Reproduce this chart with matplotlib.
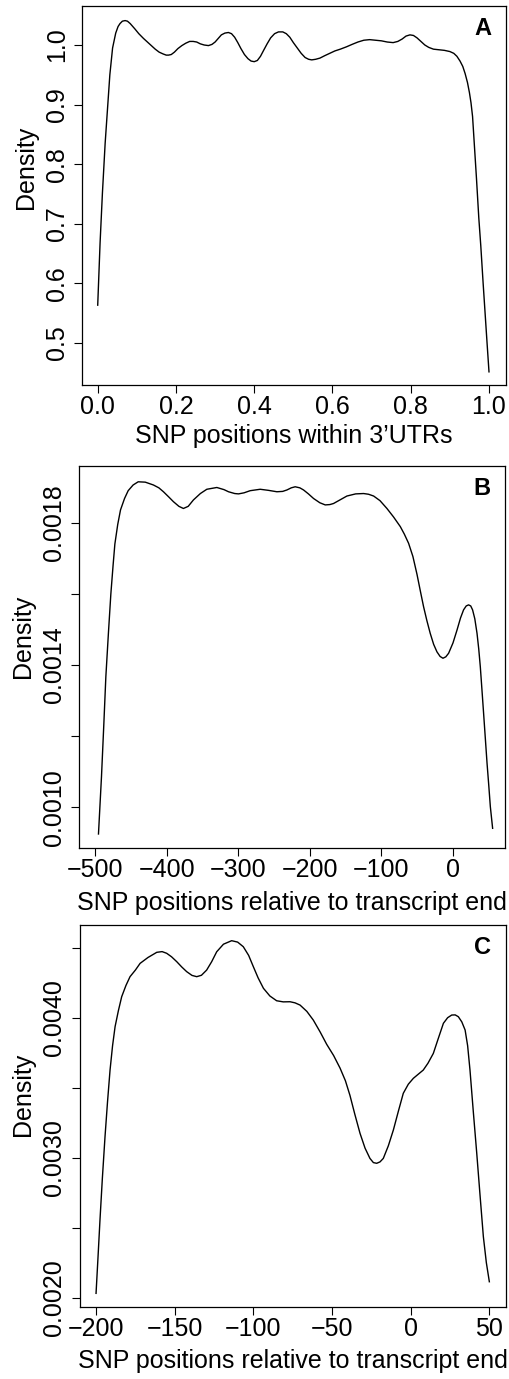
import matplotlib
matplotlib.use("Agg")
import matplotlib.pyplot as plt
from matplotlib.ticker import FixedLocator, FixedFormatter

plt.rcParams['font.family'] = ['Liberation Sans', 'DejaVu Sans']

# Panel A: relative position within the 3'UTR
a_pos = [0.000, 0.006, 0.012, 0.019, 0.026, 0.031, 0.038, 0.046, 0.052, 0.057,
         0.063, 0.070, 0.076, 0.083, 0.095, 0.105, 0.117, 0.127, 0.137, 0.147,
         0.157, 0.167, 0.175, 0.181, 0.188, 0.196, 0.205, 0.215, 0.225, 0.235,
         0.244, 0.253, 0.262, 0.272, 0.283, 0.292, 0.300, 0.308, 0.316, 0.325,
         0.334, 0.342, 0.350, 0.358, 0.366, 0.375, 0.384, 0.392, 0.400, 0.408,
         0.416, 0.424, 0.433, 0.442, 0.452, 0.462, 0.473, 0.482, 0.491, 0.500,
         0.510, 0.520, 0.530, 0.539, 0.547, 0.557, 0.568, 0.580, 0.593, 0.606,
         0.620, 0.636, 0.650, 0.665, 0.680, 0.695, 0.710, 0.725, 0.740, 0.755,
         0.767, 0.778, 0.788, 0.798, 0.807, 0.816, 0.826, 0.836, 0.846, 0.858,
         0.872, 0.886, 0.900, 0.910, 0.918, 0.926, 0.933, 0.939, 0.945, 0.950,
         0.954, 0.958, 0.963, 0.968, 0.974, 0.979, 0.985, 0.990, 0.995, 1.000]
a_dens = [0.563, 0.667, 0.751, 0.835, 0.902, 0.950, 0.995, 1.020, 1.031, 1.036,
          1.040, 1.041, 1.040, 1.036, 1.027, 1.019, 1.011, 1.005, 0.999, 0.993,
          0.988, 0.985, 0.983, 0.983, 0.984, 0.988, 0.994, 0.999, 1.003, 1.006,
          1.006, 1.005, 1.002, 1.000, 0.999, 1.001, 1.005, 1.011, 1.017, 1.020,
          1.021, 1.019, 1.013, 1.004, 0.994, 0.984, 0.977, 0.973, 0.972, 0.974,
          0.981, 0.991, 1.002, 1.012, 1.019, 1.022, 1.022, 1.019, 1.013, 1.004,
          0.995, 0.986, 0.979, 0.976, 0.975, 0.976, 0.978, 0.982, 0.986, 0.990,
          0.993, 0.997, 1.001, 1.005, 1.008, 1.009, 1.008, 1.007, 1.005, 1.004,
          1.006, 1.010, 1.015, 1.017, 1.016, 1.012, 1.006, 1.000, 0.996, 0.993,
          0.992, 0.991, 0.989, 0.986, 0.981, 0.973, 0.964, 0.952, 0.937, 0.920,
          0.903, 0.880, 0.828, 0.776, 0.709, 0.663, 0.600, 0.550, 0.500, 0.451]

# Panel B: position relative to transcript end (window of 500 nt)
b_pos = [-495.4, -491.2, -488.0, -485.1, -481.5, -478.1, -475.0, -472.5, -468.5,
         -464.6, -459.0, -453.9, -447.0, -439.9, -430.0, -418.6, -411.0, -404.6,
         -397.0, -390.6, -383.0, -376.7, -370.0, -362.7, -353.0, -344.0, -330.0,
         -320.0, -313.7, -305.0, -299.7, -292.0, -283.4, -269.4, -258.0, -246.1,
         -238.0, -232.1, -226.0, -220.5, -214.0, -208.8, -202.0, -194.8, -186.0,
         -178.5, -172.0, -166.9, -158.0, -148.2, -136.0, -124.9, -118.0, -110.9,
         -102.0, -92.3, -83.0, -73.6, -68.0, -62.0, -56.0, -50.3, -45.5, -41.1,
         -36.5, -31.8, -27.0, -22.4, -18.0, -14.0, -10.0, -6.1, 0.0, 5.6, 10.5,
         14.8, 18.5, 21.8, 24.8, 27.4, 30.5, 33.6, 36.0, 38.2, 40.5, 42.8, 45.2,
         47.6, 50.0, 52.2, 55.4]
b_dens = [0.000925, 0.001086, 0.001230, 0.001367, 0.001490, 0.001600, 0.001680,
          0.001740, 0.001795, 0.001836, 0.001868, 0.001890, 0.001906, 0.001915,
          0.001914, 0.001906, 0.001898, 0.001887, 0.001872, 0.001859, 0.001846,
          0.001840, 0.001846, 0.001864, 0.001882, 0.001894, 0.001899, 0.001893,
          0.001887, 0.001882, 0.001881, 0.001884, 0.001890, 0.001894, 0.001891,
          0.001887, 0.001888, 0.001892, 0.001898, 0.001901, 0.001898, 0.001892,
          0.001881, 0.001868, 0.001856, 0.001850, 0.001851, 0.001854, 0.001864,
          0.001875, 0.001881, 0.001882, 0.001880, 0.001875, 0.001862, 0.001840,
          0.001816, 0.001789, 0.001768, 0.001742, 0.001705, 0.001655, 0.001607,
          0.001564, 0.001525, 0.001489, 0.001458, 0.001437, 0.001424, 0.001419,
          0.001423, 0.001433, 0.001462, 0.001498, 0.001532, 0.001555, 0.001566,
          0.001569, 0.001566, 0.001555, 0.001530, 0.001489, 0.001445, 0.001395,
          0.001330, 0.001264, 0.001194, 0.001124, 0.001062, 0.001002, 0.000941]

# Panel C: position relative to transcript end (window of 200 nt)
c_pos = [-200.0, -198.7, -197.5, -196.0, -194.3, -192.7, -191.1, -189.5, -187.9,
         -185.8, -183.7, -181.0, -178.4, -175.0, -172.0, -167.0, -161.4, -158.0,
         -155.1, -152.0, -148.7, -145.5, -142.4, -139.0, -136.0, -133.0, -129.7,
         -126.5, -123.3, -119.0, -113.8, -110.0, -106.4, -103.0, -100.0, -97.0,
         -93.6, -89.5, -85.2, -81.0, -76.7, -73.5, -70.3, -66.0, -61.9, -57.5,
         -53.4, -49.0, -44.9, -41.5, -38.6, -35.5, -32.2, -29.0, -25.9, -23.7,
         -21.6, -19.5, -17.4, -14.2, -11.0, -7.8, -4.7, -1.5, 1.7, 5.0, 8.0, 11.0,
         14.4, 17.5, 20.8, 23.5, 26.1, 28.3, 30.3, 32.5, 34.6, 36.2, 37.7, 39.8,
         42.0, 44.1, 46.2, 48.1, 50.0]
c_dens = [0.002031, 0.002300, 0.002555, 0.002850, 0.003150, 0.003400, 0.003626,
          0.003800, 0.003936, 0.004050, 0.004150, 0.004230, 0.004293, 0.004340,
          0.004388, 0.004430, 0.004467, 0.004472, 0.004460, 0.004435, 0.004400,
          0.004362, 0.004329, 0.004302, 0.004293, 0.004303, 0.004340, 0.004400,
          0.004471, 0.004525, 0.004550, 0.004540, 0.004507, 0.004445, 0.004364,
          0.004285, 0.004210, 0.004155, 0.004121, 0.004113, 0.004114, 0.004106,
          0.004090, 0.004045, 0.003983, 0.003897, 0.003810, 0.003730, 0.003640,
          0.003550, 0.003445, 0.003310, 0.003174, 0.003068, 0.002995, 0.002965,
          0.002960, 0.002970, 0.002995, 0.003085, 0.003198, 0.003333, 0.003460,
          0.003525, 0.003567, 0.003598, 0.003626, 0.003675, 0.003745, 0.003850,
          0.003960, 0.004000, 0.004019, 0.004020, 0.004007, 0.003970, 0.003912,
          0.003800, 0.003626, 0.003330, 0.003031, 0.002730, 0.002436, 0.002250,
          0.002114]

W, H = 509, 1379
fig = plt.figure(figsize=(W / 100, H / 100), dpi=100)


def px_axes(left, top, right, bottom):
    return fig.add_axes([left / W, 1 - bottom / H, (right - left) / W, (bottom - top) / H])


panels = [
    dict(box=(82.3, 6, 505.7, 385.3), x=a_pos, y=a_dens,
         xlim=(-0.0394, 1.0427), ylim=(0.4284, 1.0655),
         xticks=[0.0, 0.2, 0.4, 0.6, 0.8, 1.0],
         xlabels=["0.0", "0.2", "0.4", "0.6", "0.8", "1.0"],
         yticks=[0.5, 0.6, 0.7, 0.8, 0.9, 1.0],
         ylabels=["0.5", "0.6", "0.7", "0.8", "0.9", "1.0"],
         xlabel="SNP positions within 3\u2019UTRs", letter="A",
         xlab_y=-0.153, ylab_y=0.574),
    dict(box=(79.3, 466, 505.0, 848), x=b_pos, y=b_dens,
         xlim=(-522.2, 72.7), ylim=(0.0008856, 0.0019594),
         xticks=[-500, -400, -300, -200, -100, 0],
         xlabels=["\u2212500", "\u2212400", "\u2212300", "\u2212200", "\u2212100", "0"],
         yticks=[0.0010, 0.0012, 0.0014, 0.0016, 0.0018],
         ylabels=["0.0010", "", "0.0014", "", "0.0018"],
         xlabel="SNP positions relative to transcript end", letter="B",
         xlab_y=-0.161, ylab_y=0.555),
    dict(box=(80, 925, 505.7, 1306.7), x=c_pos, y=c_dens,
         xlim=(-210.2, 60.4), ylim=(0.0019357, 0.0046621),
         xticks=[-200, -150, -100, -50, 0, 50],
         xlabels=["\u2212200", "\u2212150", "\u2212100", "\u221250", "0", "50"],
         yticks=[0.0020, 0.0025, 0.0030, 0.0035, 0.0040, 0.0045],
         ylabels=["0.0020", "", "0.0030", "", "0.0040", ""],
         xlabel="SNP positions relative to transcript end", letter="C",
         xlab_y=-0.161, ylab_y=0.555),
]

for p in panels:
    ax = px_axes(*p["box"])
    ax.plot(p["x"], p["y"], color="black", lw=1.0, solid_joinstyle="round")
    ax.set_xlim(*p["xlim"])
    ax.set_ylim(*p["ylim"])
    ax.xaxis.set_major_locator(FixedLocator(p["xticks"]))
    ax.xaxis.set_major_formatter(FixedFormatter(p["xlabels"]))
    ax.yaxis.set_major_locator(FixedLocator(p["yticks"]))
    ax.yaxis.set_major_formatter(FixedFormatter(p["ylabels"]))
    ax.tick_params(axis="both", direction="out", length=5.8, width=0.8,
                   labelsize=18, color="black")
    ax.tick_params(axis="x", pad=1.5)
    ax.tick_params(axis="y", pad=4)
    for lab in ax.get_yticklabels():
        lab.set_rotation(90)
        lab.set_va("center")
    for s in ax.spines.values():
        s.set_linewidth(0.9)
    ax.set_xlabel(p["xlabel"], fontsize=18, va="baseline")
    ax.xaxis.set_label_coords(0.5, p["xlab_y"])
    ax.set_ylabel("Density", fontsize=18, va="center")
    ax.yaxis.set_label_coords(-0.133, p["ylab_y"])
    ax.text(0.945, 0.94, p["letter"], transform=ax.transAxes, fontsize=17,
            fontweight="bold", ha="center", va="center")

fig.savefig("out.png", dpi=100)
